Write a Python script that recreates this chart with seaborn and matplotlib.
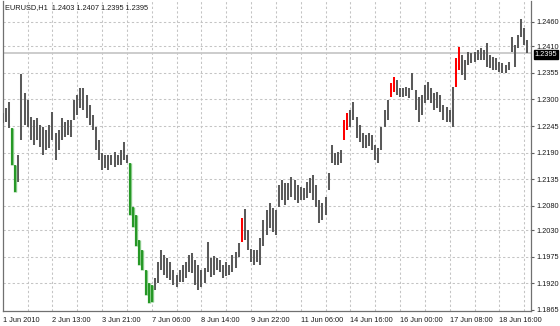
import numpy as np
import pandas as pd
import matplotlib
matplotlib.use("Agg")
import matplotlib.pyplot as plt
import seaborn as sns

# ---------------- data ----------------
symbol = "EURUSD,H1"
last_ohlc = [1.2403, 1.2407, 1.2395, 1.2395]
bid_price = 1.2395

highs = [
    1.2272, 1.2282, 1.2295, 1.2241, 1.2165, 1.2185, 1.2353, 1.2313, 1.2299, 1.2264,
    1.2258, 1.2262, 1.2247, 1.2243, 1.2237, 1.2247, 1.2274, 1.2231, 1.2237, 1.2262,
    1.2253, 1.2258, 1.2258, 1.2299, 1.2309, 1.2324, 1.2324, 1.2309, 1.2289, 1.2268,
    1.2243, 1.2216, 1.2189, 1.2185, 1.2185, 1.2185, 1.2191, 1.2185, 1.2196, 1.2212,
    1.2185, 1.2169, 1.2078, 1.2061, 1.2009, 1.1988, 1.1948, 1.1921, 1.1917, 1.1931,
    1.1964, 1.1988, 1.1978, 1.1972, 1.1964, 1.1948, 1.1937, 1.1948, 1.1958, 1.1964,
    1.1978, 1.1982, 1.1968, 1.1958, 1.1948, 1.1952, 1.2005, 1.1972, 1.1976, 1.1972,
    1.1968, 1.1958, 1.1964, 1.1958, 1.1978, 1.1984, 1.2003, 1.2055, 1.2074, 1.2030,
    1.1992, 1.1988, 1.1988, 1.2013, 1.2051, 1.2072, 1.2086, 1.2076, 1.2072, 1.2123,
    1.2134, 1.2127, 1.2127, 1.2140, 1.2134, 1.2123, 1.2119, 1.2117, 1.2129, 1.2138,
    1.2144, 1.2123, 1.2092, 1.2086, 1.2098, 1.2148, 1.2206, 1.2189, 1.2191, 1.2196,
    1.2258, 1.2272, 1.2278, 1.2295, 1.2264, 1.2247, 1.2231, 1.2227, 1.2231, 1.2227,
    1.2206, 1.2200, 1.2243, 1.2278, 1.2299, 1.2334, 1.2346, 1.2340, 1.2324, 1.2324,
    1.2326, 1.2324, 1.2355, 1.2320, 1.2305, 1.2309, 1.2330, 1.2336, 1.2324, 1.2313,
    1.2315, 1.2309, 1.2289, 1.2284, 1.2278, 1.2326, 1.2386, 1.2408, 1.2392, 1.2381,
    1.2398, 1.2396, 1.2398, 1.2402, 1.2406, 1.2402, 1.2417, 1.2392, 1.2388, 1.2386,
    1.2377, 1.2375, 1.2371, 1.2377, 1.2429, 1.2412, 1.2433, 1.2466, 1.2448, 1.2423,
]
lows = [
    1.2251, 1.2253, 1.2241, 1.2165, 1.2109, 1.2129, 1.2216, 1.2247, 1.2243, 1.2216,
    1.2206, 1.2216, 1.2202, 1.2185, 1.2196, 1.2200, 1.2216, 1.2175, 1.2196, 1.2216,
    1.2222, 1.2227, 1.2222, 1.2258, 1.2268, 1.2282, 1.2278, 1.2262, 1.2247, 1.2237,
    1.2196, 1.2175, 1.2154, 1.2158, 1.2154, 1.2165, 1.2160, 1.2165, 1.2165, 1.2175,
    1.2169, 1.2061, 1.2036, 1.1998, 1.1958, 1.1948, 1.1896, 1.1879, 1.1881, 1.1906,
    1.1921, 1.1948, 1.1937, 1.1931, 1.1927, 1.1917, 1.1912, 1.1923, 1.1923, 1.1931,
    1.1943, 1.1941, 1.1917, 1.1906, 1.1912, 1.1921, 1.1943, 1.1933, 1.1937, 1.1948,
    1.1943, 1.1931, 1.1935, 1.1937, 1.1943, 1.1952, 1.1974, 1.2005, 1.2009, 1.1988,
    1.1964, 1.1958, 1.1964, 1.1958, 1.1998, 1.2019, 1.2034, 1.2026, 1.2019, 1.2078,
    1.2092, 1.2082, 1.2092, 1.2098, 1.2092, 1.2086, 1.2092, 1.2092, 1.2096, 1.2107,
    1.2092, 1.2078, 1.2045, 1.2051, 1.2061, 1.2113, 1.2169, 1.2165, 1.2165, 1.2169,
    1.2216, 1.2237, 1.2243, 1.2258, 1.2220, 1.2212, 1.2200, 1.2200, 1.2204, 1.2196,
    1.2175, 1.2169, 1.2196, 1.2243, 1.2258, 1.2305, 1.2315, 1.2309, 1.2305, 1.2305,
    1.2307, 1.2303, 1.2320, 1.2278, 1.2253, 1.2268, 1.2293, 1.2299, 1.2293, 1.2278,
    1.2282, 1.2274, 1.2258, 1.2253, 1.2253, 1.2243, 1.2326, 1.2361, 1.2351, 1.2340,
    1.2371, 1.2375, 1.2377, 1.2381, 1.2381, 1.2381, 1.2367, 1.2365, 1.2361, 1.2361,
    1.2357, 1.2355, 1.2355, 1.2361, 1.2398, 1.2367, 1.2406, 1.2429, 1.2412, 1.2396,
]
green_bars = [3, 4, 41, 42, 43, 44, 45, 46, 47, 48]
red_bars = [77, 110, 111, 125, 126, 146, 147]

x_tick_labels = ["1 Jun 2010", "2 Jun 13:00", "3 Jun 21:00", "7 Jun 06:00",
                 "8 Jun 14:00", "9 Jun 22:00", "11 Jun 06:00", "14 Jun 16:00",
                 "16 Jun 00:00", "17 Jun 08:00", "18 Jun 16:00"]
y_tick_labels = ["1.1865", "1.1920", "1.1975", "1.2030", "1.2080", "1.2135",
                 "1.2190", "1.2245", "1.2300", "1.2355", "1.2410", "1.2460"]

# ---------------- frame ----------------
n = len(highs)
state = np.array(["flat"] * n, dtype=object)
state[green_bars] = "down"
state[red_bars] = "up"
df = pd.DataFrame({"bar": np.arange(n), "high": highs, "low": lows, "state": state})

sns.set_style("white")
plt.rcParams["font.family"] = ["Liberation Sans", "DejaVu Sans"]

W, H = 560, 326
fig = plt.figure(figsize=(W / 100, H / 100), dpi=100)
L, R, T, B = 2.5, 531, 1, 311
ax = fig.add_axes([L / W, 1 - B / H, (R - L) / W, (B - T) / H])

d = df[df["state"] == "flat"]
ax.vlines(d["bar"], d["low"], d["high"], colors="#5a5a5a", linewidth=1.45, zorder=3)
d = df[df["state"] == "down"]
ax.vlines(d["bar"], d["low"], d["high"], colors="#86c986", linewidth=2.4, zorder=3)
ax.vlines(d["bar"], d["low"], d["high"], colors="#0a8a0a", linewidth=1.1, zorder=4)
d = df[df["state"] == "up"]
ax.vlines(d["bar"], d["low"], d["high"], colors="#ff0000", linewidth=1.45, zorder=3)

# price scale
yticks = np.array([float(s) for s in y_tick_labels])
y_scale_min, y_scale_max = yticks[0], yticks[-1]
px_per_unit = (310 - 22) / (y_scale_max - y_scale_min)
ylo = y_scale_min - (B - 310) / px_per_unit
yhi = y_scale_max + (22 - T) / px_per_unit
ax.set_ylim(ylo, yhi)
ax.set_xlim(-0.1, 170.2)

ax.yaxis.tick_right()
ax.set_yticks(yticks)
ax.set_yticklabels(y_tick_labels)
xticks = np.arange(len(x_tick_labels)) * 16
ax.set_xticks(xticks)
ax.set_xticklabels(x_tick_labels)
for lbl in ax.get_xticklabels():
    lbl.set_ha("left")

ax.tick_params(axis="both", direction="out", length=2.5, width=0.8, color="#606060",
               labelsize=5.3, labelcolor="#1a1a1a")
ax.tick_params(axis="x", pad=1.5)
ax.tick_params(axis="y", pad=1.5)

# grid
for g in np.arange(8, 170, 8):
    ax.axvline(g, color="#c4c4c4", lw=0.75, ls=(0, (2.2, 2.2)), zorder=1)
for g in yticks[1:]:
    ax.axhline(g, color="#c4c4c4", lw=0.75, ls=(0, (2.2, 2.2)), zorder=1)

# bid line and tag
ax.axhline(bid_price, color="#c8c8c8", lw=1.3, zorder=2)
tag = ax.annotate(f"{bid_price:.4f}", xy=(1.0, bid_price), xycoords=("axes fraction", "data"),
                  xytext=(2.5, -0.5), textcoords="offset points", ha="left", va="center",
                  fontsize=5.3, color="white", zorder=10, annotation_clip=False,
                  bbox=dict(boxstyle="square,pad=0.12", fc="black", ec="black"))

for side in ["left", "bottom", "right"]:
    ax.spines[side].set_color("#707070")
    ax.spines[side].set_linewidth(0.9)
ax.spines["top"].set_visible(False)

header = symbol + "  " + " ".join(f"{v:.4f}" for v in last_ohlc)
fig.text(5 / W, 1 - 8 / H, header, ha="left", va="center", fontsize=5.3, color="#1a1a1a")

fig.savefig("out.png", dpi=100)
